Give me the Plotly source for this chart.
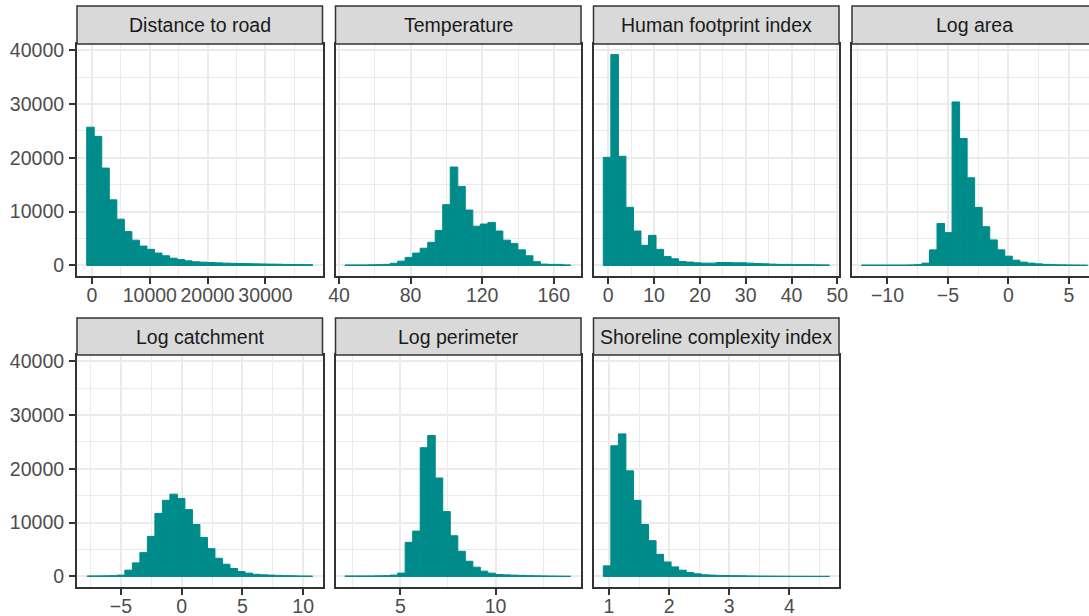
import plotly.graph_objects as go

# ---------------- data (histogram counts, 30 bins per panel) ----------------
panel_names = ["Distance to road", "Temperature", "Human footprint index", "Log area",
               "Log catchment", "Log perimeter", "Shoreline complexity index"]

dist_counts = [25700, 24000, 18100, 12200, 8600, 6300, 4700, 3600, 3000, 2300,
               1800, 1350, 1100, 860, 680, 610, 550, 490, 430, 400,
               370, 340, 300, 280, 250, 230, 200, 180, 160, 150]
temp_counts = [100, 100, 100, 120, 150, 200, 400, 800, 1500, 2300,
               3200, 4300, 6500, 11300, 18300, 14700, 10300, 7300, 7700, 8000,
               6400, 4700, 4100, 2900, 1800, 700, 250, 200, 200, 100]
human_counts = [20100, 39200, 20300, 10800, 6400, 3750, 5600, 3000, 1650, 1230,
                740, 620, 490, 430, 430, 550, 550, 490, 490, 430,
                370, 310, 250, 200, 200, 150, 150, 150, 120, 100]
logarea_counts = [80, 80, 80, 80, 80, 80, 100, 150, 430, 2900,
                  7800, 6100, 30400, 23600, 16300, 10800, 7200, 4740, 2900, 1720,
                  985, 615, 430, 300, 200, 150, 120, 100, 80, 60]
logcatch_counts = [100, 100, 120, 150, 250, 1170, 2520, 4430, 7450, 11700,
                   14150, 15300, 14500, 12430, 9660, 7260, 5170, 3380, 2280, 1480,
                   920, 615, 400, 300, 250, 200, 150, 120, 100, 80]
logperim_counts = [100, 100, 100, 100, 120, 150, 250, 620, 6340, 8430,
                   23940, 26200, 18300, 12060, 7570, 4680, 2830, 1720, 985, 615,
                   370, 300, 250, 200, 150, 120, 100, 80, 60, 50]
shore_counts = [1970, 24300, 26500, 19630, 14150, 9660, 6650, 4120, 2700, 1780,
                1170, 740, 490, 310, 250, 200, 180, 150, 120, 100,
                80, 70, 60, 50, 40, 30, 30, 20, 20, 20]

all_counts = [dist_counts, temp_counts, human_counts, logarea_counts,
              logcatch_counts, logperim_counts, shore_counts]

# first bin edge and bin width per panel
bin_start = [-917, 43.35, -1.09, -12.13, -7.77, 2.10, 0.905]
bin_width = [1303, 4.2, 1.645, 0.623, 0.618, 0.3944, 0.1254]

# x-axis ticks
x_tick_major = [10000, 40, 10, 5, 5, 5, 1]
x_tick_minor = [5000, 20, 5, 2.5, 2.5, 2.5, 0.5]
x_ranges = [[-2595, 39880], [38.04, 175.2], [-3.23, 50.37], [-12.93, 6.67],
            [-8.62, 11.59], [1.60, 14.48], [0.742, 4.827]]
y_range = [-1960, 41170]

# ---------------- layout geometry ----------------
W, H = 1089, 616
col_x0 = [77, 335.5, 593.5, 852]
pw = 245.5
row_plot = [(44, 276), (355, 587)]
row_strip = [(6, 44), (318, 355)]

def fx(px):
    return px / W

def fy(py):
    return 1 - py / H

FONT = "Liberation Sans, Arial, sans-serif"
TEAL = "#008B8B"
GRID = "#EBEBEB"
BORDER = "#333333"

fig = go.Figure()
layout = dict(
    width=W, height=H,
    margin=dict(l=0, r=0, t=0, b=0, pad=0, autoexpand=False),
    paper_bgcolor="white", plot_bgcolor="white",
    showlegend=False,
    font=dict(family=FONT, size=19.5, color="#4D4D4D"),
)
shapes = []
annotations = []

for i, name in enumerate(panel_names):
    r, c = divmod(i, 4)
    counts = all_counts[i]
    centers = [bin_start[i] + bin_width[i] * (k + 0.5) for k in range(len(counts))]
    n = i + 1
    xa = "x" if n == 1 else f"x{n}"
    ya = "y" if n == 1 else f"y{n}"
    fig.add_trace(go.Bar(
        x=centers, y=counts, width=[bin_width[i]] * len(counts),
        marker=dict(color=TEAL, line=dict(width=1, color=TEAL)),
        xaxis=xa, yaxis=ya, hoverinfo="x+y",
    ))
    x0 = col_x0[c]
    x1 = min(x0 + pw, W)
    ytop, ybot = row_plot[r]
    xdom = [fx(x0), fx(x1)]
    ydom = [fy(ybot), fy(ytop)]
    last_col = (x0 + pw > W)
    layout[f"xaxis{'' if n == 1 else n}"] = dict(
        domain=xdom, anchor=ya, range=x_ranges[i], automargin=False,
        tickmode="linear", tick0=0, dtick=x_tick_major[i], tickformat="d",
        ticklabeloverflow="allow", ticklabelstandoff=-5,
        showgrid=True, gridcolor=GRID, gridwidth=1.6,
        minor=dict(dtick=x_tick_minor[i], tick0=0, showgrid=True,
                   gridcolor=GRID, gridwidth=0.8, ticks=""),
        showline=True, linecolor=BORDER, linewidth=2, mirror=True,
        ticks="outside", ticklen=6, tickwidth=2, tickcolor=BORDER,
        zeroline=False,
        tickfont=dict(family=FONT, size=19.5, color="#4D4D4D"),
    )
    left = (c == 0)
    layout[f"yaxis{'' if n == 1 else n}"] = dict(
        domain=ydom, anchor=xa, range=y_range, automargin=False,
        tickmode="linear", tick0=0, dtick=10000, tickformat="d",
        ticklabelstandoff=1,
        showgrid=True, gridcolor=GRID, gridwidth=1.6,
        minor=dict(dtick=5000, tick0=0, showgrid=True,
                   gridcolor=GRID, gridwidth=0.8, ticks=""),
        showline=True, linecolor=BORDER, linewidth=2, mirror=not last_col,
        ticks="outside" if left else "", ticklen=6, tickwidth=2, tickcolor=BORDER,
        showticklabels=left, zeroline=False,
        tickfont=dict(family=FONT, size=19.5, color="#4D4D4D"),
    )
    st, sb = row_strip[r]
    shapes.append(dict(type="rect", xref="paper", yref="paper",
                       x0=fx(x0), x1=fx(x0 + pw), y0=fy(sb), y1=fy(st),
                       fillcolor="#D9D9D9", line=dict(color=BORDER, width=1.5),
                       layer="above"))
    annotations.append(dict(text=name, xref="paper", yref="paper",
                            x=fx(x0 + pw / 2), y=fy((st + sb) / 2),
                            xanchor="center", yanchor="middle", showarrow=False,
                            font=dict(family=FONT, size=19.5, color="#1A1A1A")))

layout["shapes"] = shapes
layout["annotations"] = annotations
fig.update_layout(**layout)
fig.write_html("out.html")
